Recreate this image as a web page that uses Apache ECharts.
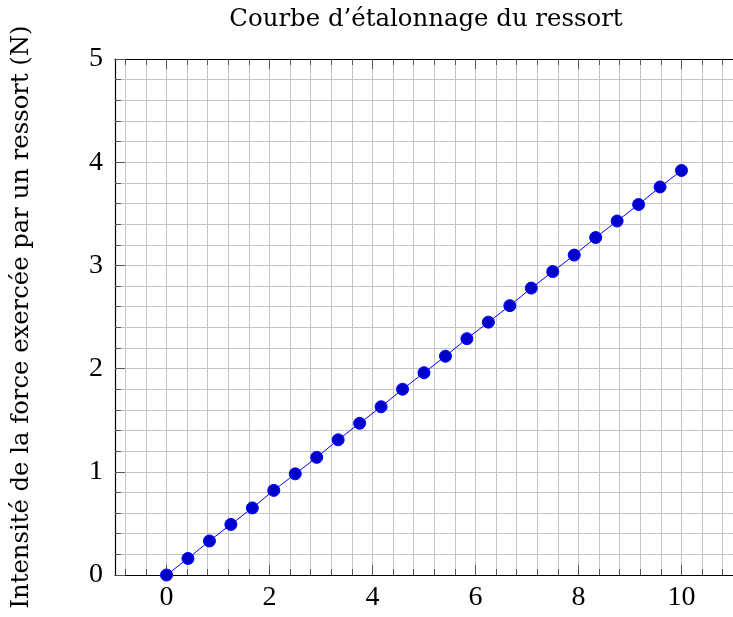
<!DOCTYPE html>
<html><head><meta charset="utf-8">
<script src="https://cdn.jsdelivr.net/npm/echarts@6/dist/echarts.min.js"></script>
<style>html,body{margin:0;padding:0;background:#fff}#c{width:733px;height:617px}</style>
</head><body><div id="c"></div>
<script>
const chartTitle = "Courbe d’étalonnage du ressort";
const yAxisName = "Intensité de la force exercée par un ressort (N)";
const xValues = [0, 0.4167, 0.8333, 1.25, 1.6667, 2.0833, 2.5, 2.9167, 3.3333, 3.75, 4.1667, 4.5833, 5,
  5.4167, 5.8333, 6.25, 6.6667, 7.0833, 7.5, 7.9167, 8.3333, 8.75, 9.1667, 9.5833, 10];
const yValues = [0, 0.16, 0.33, 0.49, 0.65, 0.82, 0.98, 1.14, 1.31, 1.47, 1.63, 1.80, 1.96,
  2.12, 2.29, 2.45, 2.61, 2.78, 2.94, 3.10, 3.27, 3.43, 3.59, 3.76, 3.92];
const xMajorTicks = [0, 2, 4, 6, 8, 10];
const xMinorTicks = [-0.8, -0.4, 0, 0.4, 0.8, 1.2, 1.6, 2, 2.4, 2.8, 3.2, 3.6, 4, 4.4, 4.8, 5.2, 5.6, 6,
  6.4, 6.8, 7.2, 7.6, 8, 8.4, 8.8, 9.2, 9.6, 10, 10.4, 10.8];
const xRange = [-1, 11];
const yRange = [0, 5];

const FONT = 'Liberation Serif';
const TEXT_FONT = 'DejaVu Serif';
const gridColor = '#c4c4c4';
const tickColor = '#555555';

const points = xValues.map((x, i) => [x, yValues[i]]);

function xAxisDef(pos, ticks, len, showLabel, showSplit, showLine) {
  return {
    type: 'value', position: pos, min: xRange[0], max: xRange[1],
    axisLine: { show: showLine, onZero: false, lineStyle: { color: '#000', width: 1.2 } },
    axisTick: { show: true, inside: true, length: len, customValues: ticks, lineStyle: { color: tickColor, width: 1 } },
    axisLabel: showLabel ? { show: true, customValues: ticks, fontFamily: FONT, fontSize: 28, color: '#000', margin: 9 } : { show: false },
    splitLine: { show: showSplit, lineStyle: { color: gridColor, width: 1 } }
  };
}

const chart = echarts.init(document.getElementById('c'), null, { renderer: 'canvas' });
chart.setOption({
  animation: false,
  backgroundColor: '#fff',
  title: {
    text: chartTitle, left: 421, top: 3, textAlign: 'center',
    textStyle: { fontFamily: TEXT_FONT, fontSize: 24.4, fontWeight: 'normal', color: '#000' }
  },
  grid: { left: 115, top: 59, bottom: 42, right: -3.6, containLabel: false },
  xAxis: [
    xAxisDef('bottom', xMinorTicks, 6, false, true, true),
    xAxisDef('bottom', xMajorTicks, 10, true, false, false),
    xAxisDef('top', xMinorTicks, 6, false, false, true),
    xAxisDef('top', xMajorTicks, 10, false, false, false)
  ],
  yAxis: [{
    type: 'value', position: 'left', min: yRange[0], max: yRange[1], interval: 1,
    name: yAxisName, nameLocation: 'middle', nameRotate: 90, nameGap: 81,
    nameTextStyle: { fontFamily: TEXT_FONT, fontSize: 24.3, color: '#000' },
    axisLine: { show: true, onZero: false, lineStyle: { color: '#000', width: 1.2 } },
    axisTick: { show: true, inside: true, length: 10, lineStyle: { color: tickColor, width: 1 } },
    minorTick: { show: true, splitNumber: 5, length: 6, lineStyle: { color: tickColor, width: 1 } },
    axisLabel: { fontFamily: FONT, fontSize: 28, color: '#000', margin: 12 },
    splitLine: { show: true, lineStyle: { color: gridColor, width: 1 } },
    minorSplitLine: { show: true, lineStyle: { color: gridColor, width: 1 } }
  }],
  series: [{
    type: 'line', xAxisIndex: 0, yAxisIndex: 0, data: points,
    symbol: 'circle', symbolSize: 12, showSymbol: true,
    lineStyle: { color: '#0000ff', width: 1 },
    itemStyle: { color: '#0000cc', borderColor: '#0000ff', borderWidth: 1 },
    z: 5
  }]
});
</script>
</body></html>
